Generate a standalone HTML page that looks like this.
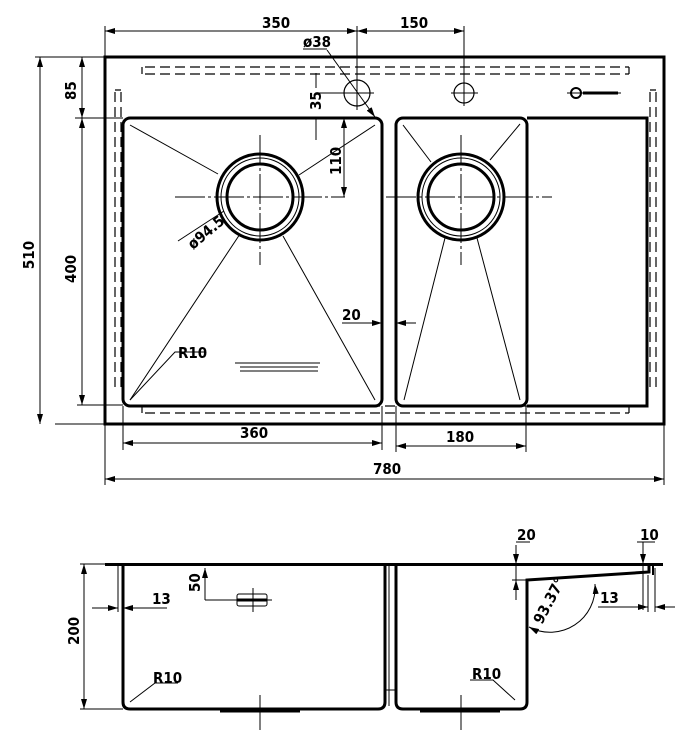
<!DOCTYPE html>
<html><head><meta charset="utf-8"><style>
html,body{margin:0;padding:0;background:#fff;}
svg{display:block}
text{font-family:"DejaVu Sans Condensed","Liberation Sans Narrow","Liberation Sans",sans-serif;font-size:15px;fill:#000;font-weight:bold}
</style></head><body>
<svg width="700" height="738" viewBox="0 0 700 738" xmlns="http://www.w3.org/2000/svg">
<defs>
<marker id="a" viewBox="0 0 10 6" refX="10" refY="3" markerWidth="10" markerHeight="6" orient="auto-start-reverse" markerUnits="userSpaceOnUse"><path d="M0,0 L10,3 L0,6 z" fill="#000"/></marker>
</defs>
<g fill="none" stroke="#000">
<rect x="105" y="57" width="559" height="367" stroke-width="3"/>
<rect x="123" y="118" width="259" height="288" rx="7" stroke-width="3"/>
<rect x="396" y="118" width="131" height="288" rx="7" stroke-width="3"/>
<path d="M527 118 H647 V406 H527" stroke-width="3"/>
<g stroke-width="1.2" stroke-dasharray="10,5">
<path d="M145 67 H629"/><path d="M145 74 H629"/>
<path d="M145 406 H629"/><path d="M145 413 H629"/>
<path d="M115 92 V388"/><path d="M121 92 V388"/>
<path d="M650 92 V388"/><path d="M656 92 V388"/>
</g>
<path d="M142 67 V74 M629 67 V74 M115 90 H121 M650 90 H656 M142 406 V413 M629 406 V413" stroke-width="1.2"/>
<g stroke-width="1">
<path d="M130 125 L218 174 M375 125 L299 175 M130 400 L240 234 M375 400 L283 236"/>
<path d="M403 125 L431 162 M520 124 L490 160 M404 400 L445 238 M520 400 L477 238"/>
<path d="M175 197 H345 M260 135 V265 M386 197 H552 M461 135 V265" stroke-dasharray="30,3,3,3"/>
</g>
<circle cx="260" cy="197" r="43" stroke-width="3"/><circle cx="260" cy="197" r="39" stroke-width="1"/><circle cx="260" cy="197" r="33" stroke-width="3"/>
<circle cx="461" cy="197" r="43" stroke-width="3"/><circle cx="461" cy="197" r="39" stroke-width="1"/><circle cx="461" cy="197" r="33" stroke-width="3"/>
<circle cx="357" cy="93" r="13" stroke-width="1.2"/><circle cx="464" cy="93" r="10" stroke-width="1.2"/>
<path d="M357 26 V110 M316 93 H374 M451 93 H478 M464 26 V106" stroke-width="1"/>
<path d="M327 50 L375 117" stroke-width="1" marker-end="url(#a)"/>
<path d="M303 49 H327" stroke-width="1"/>
<circle cx="576" cy="93" r="5" stroke-width="2"/><path d="M567 93 H621" stroke-width="1"/><path d="M583 93 H618" stroke-width="3"/>
<path d="M235 363 H320 M240 367 H318 M240 371 H318" stroke-width="1"/>
<g stroke-width="1">
<path d="M105 26 V57 M464 26 V88"/>
<path d="M105 31 H357" marker-start="url(#a)" marker-end="url(#a)"/>
<path d="M357 31 H464" marker-start="url(#a)" marker-end="url(#a)"/>
<path d="M35 57 H105 M75 118 H123 M55 424 H105 M77 405 H123"/>
<path d="M40 57 V424" marker-start="url(#a)" marker-end="url(#a)"/>
<path d="M82 57 V118" marker-start="url(#a)" marker-end="url(#a)"/>
<path d="M82 118 V405" marker-start="url(#a)" marker-end="url(#a)"/>
<path d="M316 73 V88 M316 118 V140"/>
<path d="M344 118 V197" marker-start="url(#a)" marker-end="url(#a)"/>
<path d="M123 406 V450 M382 406 V450 M396 406 V452 M526 406 V452 M105 424 V485 M664 424 V485"/>
<path d="M123 443 H382" marker-start="url(#a)" marker-end="url(#a)"/>
<path d="M396 446 H526" marker-start="url(#a)" marker-end="url(#a)"/>
<path d="M105 479 H664" marker-start="url(#a)" marker-end="url(#a)"/>
<path d="M342 323 H382" marker-end="url(#a)"/><path d="M416 323 H396" marker-end="url(#a)"/>
<path d="M224 211 L178 241 M130 400 L175 352 L205 352"/>
</g>
<path d="M105 564.5 H663" stroke-width="3"/>
<path d="M123 564 V702 Q123 709 130 709 H378 Q385 709 385 702 V564" stroke-width="3"/>
<path d="M396 564 V702 Q396 709 403 709 H520 Q527 709 527 702 V580 L649 572 V564" stroke-width="3"/>
<path d="M653 564 V575" stroke-width="2"/>
<path d="M389 564 V706 M385 690 H396" stroke-width="1"/>
<path d="M220 711 H300 M420 711 H500" stroke-width="3"/>
<path d="M260 695 V730 M461 695 V730" stroke-width="1"/>
<rect x="237" y="594" width="30" height="12" rx="2" stroke-width="1"/>
<path d="M237 600 H267" stroke-width="3"/><path d="M253 588 V612 M233 600 H272" stroke-width="1"/>
<g stroke-width="1">
<path d="M118 564 V612 M92 608 H118" marker-end="url(#a)"/>
<path d="M167 608 H123" marker-end="url(#a)"/>
<path d="M80 564 H123 M80 709 H123"/>
<path d="M84 564 V709" marker-start="url(#a)" marker-end="url(#a)"/>
<path d="M205 600 H235"/>
<path d="M205 568 V600" marker-start="url(#a)"/>
<path d="M130 702 L155 683 H178"/>
<path d="M515 700 L493 680 H470"/>
<path d="M516 542 H530 M516 545 V600 M512 580 H527"/>
<path d="M516 550 V564" marker-end="url(#a)"/><path d="M516 592 V580" marker-end="url(#a)"/>
<path d="M643 542 V610 M637 542 H655"/>
<path d="M643 550 V564" marker-end="url(#a)"/>
<path d="M648 575 V612 M655 568 V612"/>
<path d="M598 607 H648" marker-end="url(#a)"/><path d="M675 607 H655" marker-end="url(#a)"/>
<path d="M529 627 A45 45 0 0 0 595 584" marker-start="url(#a)" marker-end="url(#a)"/>
</g>
</g>
<text x="240" y="438">360</text>
<text x="262" y="28">350</text>
<text x="400" y="28">150</text>
<text x="303" y="47">ø38</text>
<text x="446" y="442">180</text>
<text x="373" y="474">780</text>
<text x="342" y="320">20</text>
<text x="178" y="358">R10</text>
<text x="152" y="604">13</text>
<text x="153" y="683">R10</text>
<text x="472" y="679">R10</text>
<text x="517" y="540">20</text>
<text x="640" y="540">10</text>
<text x="600" y="603">13</text>
<text transform="translate(34,255) rotate(-90)" text-anchor="middle">510</text>
<text transform="translate(76,100) rotate(-90)">85</text>
<text transform="translate(76,283) rotate(-90)">400</text>
<text transform="translate(321,110) rotate(-90)">35</text>
<text transform="translate(341,175) rotate(-90)">110</text>
<text transform="translate(193,250) rotate(-40)">ø94.5</text>
<text transform="translate(79,645) rotate(-90)">200</text>
<text transform="translate(200,592) rotate(-90)">50</text>
<text transform="translate(542,625) rotate(-62)">93.37°</text>
</svg>
</body></html>
